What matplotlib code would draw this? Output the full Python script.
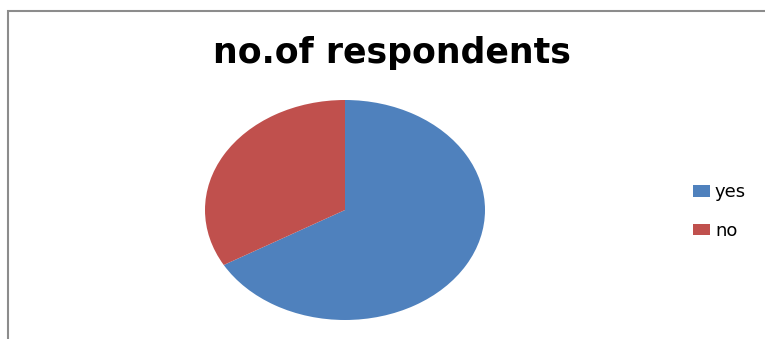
import matplotlib.pyplot as plt
from matplotlib.patches import Rectangle

labels = ['yes', 'no']
values = [20, 10]
colors = ['#4F81BD', '#C0504D']

W, H = 765, 339
fig = plt.figure(figsize=(W / 100, H / 100), dpi=100)
fig.patch.set_facecolor('white')

# chart frame (cut off at right and bottom like the screenshot)
fig.add_artist(Rectangle((8 / W, -0.05), 1.1, (H - 11) / H + 0.05,
                         transform=fig.transFigure, facecolor='none',
                         edgecolor='#8c8c8c', linewidth=1.5, zorder=5))

# pie drawn in a non-square axes so it comes out as an ellipse
ax = fig.add_axes([205 / W, (H - 320) / H, 280 / W, 220 / H])
wedges, _ = ax.pie(values, colors=colors, startangle=90, counterclock=False,
                   radius=1, wedgeprops=dict(linewidth=0))
ax.set_aspect('auto')
ax.set_xlim(-1, 1)
ax.set_ylim(-1, 1)
ax.axis('off')

fig.text(392 / W, 1 - 53 / H, 'no.of respondents', ha='center', va='center',
         fontsize=25, fontweight='bold', family='DejaVu Sans')

fig.legend(wedges, labels, loc='upper left', bbox_to_anchor=(677 / W, 1 - 167 / H),
           frameon=False, handlelength=0.9, handleheight=0.6, handletextpad=0.3,
           labelspacing=1.15, prop={'family': 'DejaVu Sans', 'size': 13})

fig.savefig('out.png', dpi=100)
